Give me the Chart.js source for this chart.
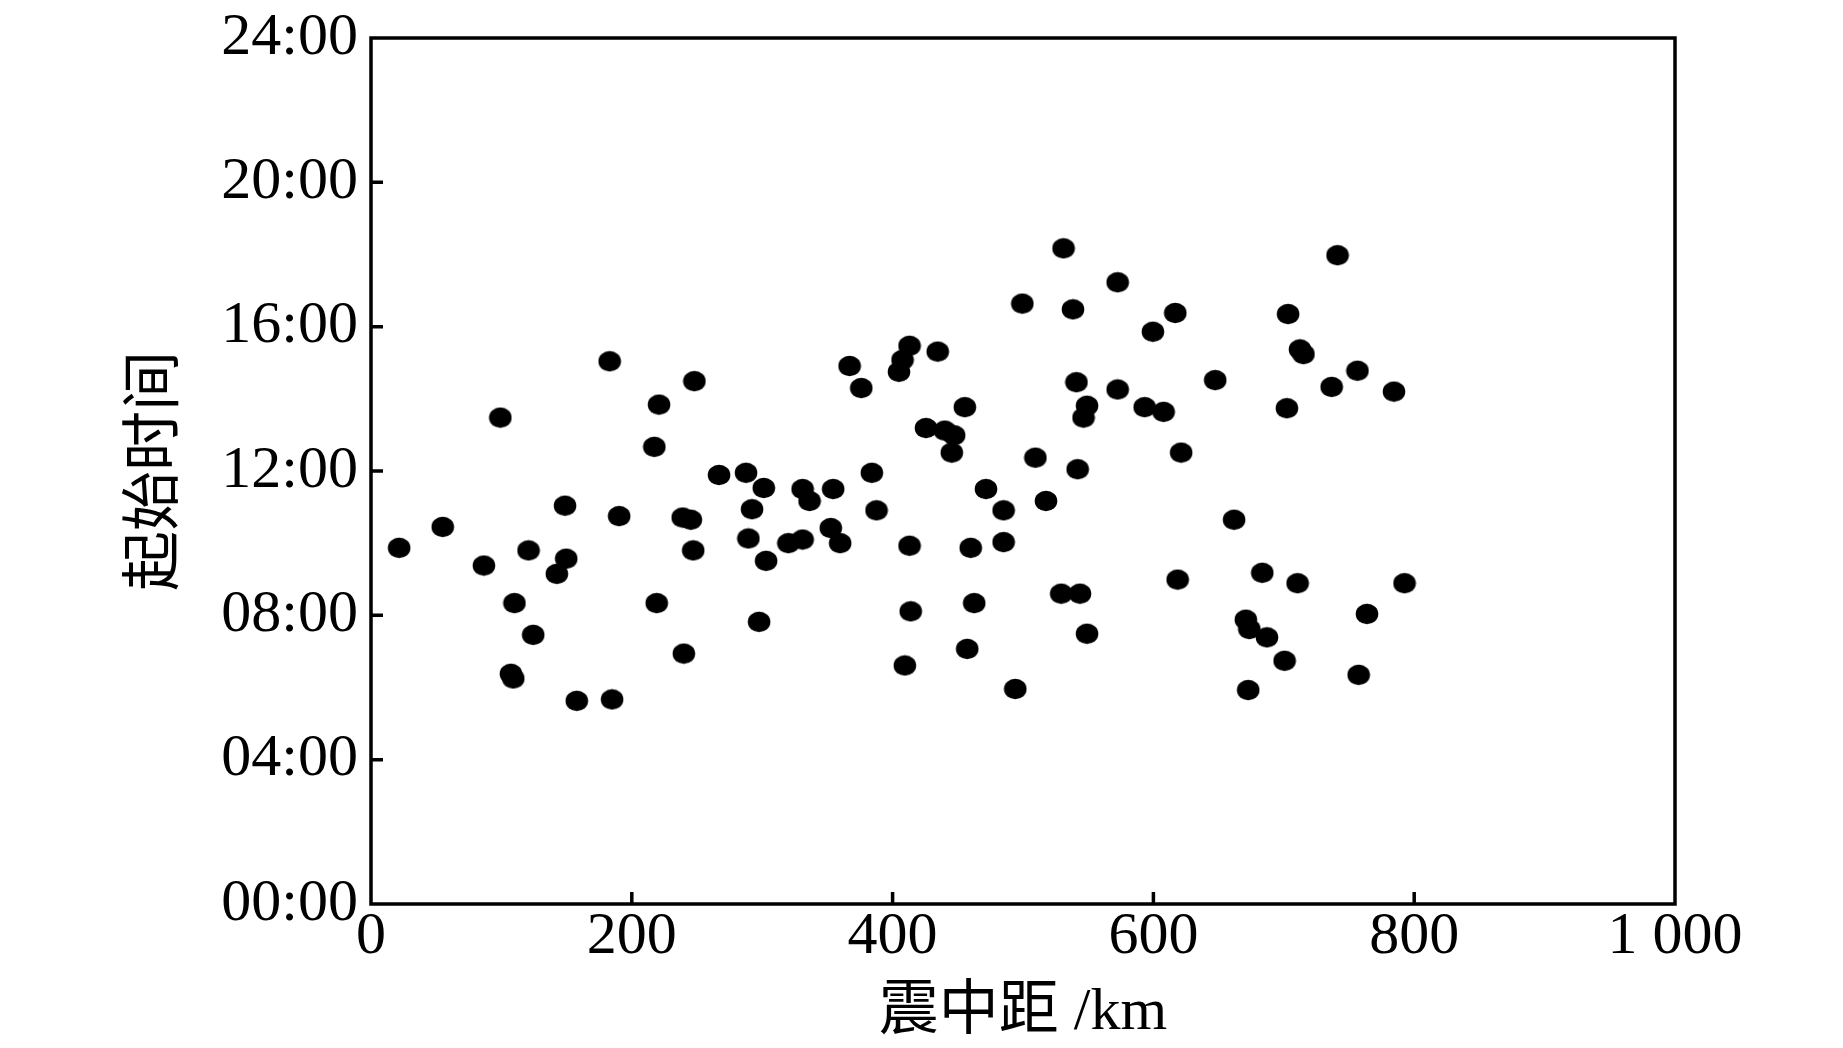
<!DOCTYPE html>
<html>
<head>
<meta charset="utf-8">
<title>起始时间 - 震中距</title>
<script src="https://cdn.jsdelivr.net/npm/chart.js@4.4.1/dist/chart.umd.min.js"></script>
<style>
  html, body { margin: 0; padding: 0; background: #fff; }
  #chart { display: block; }
</style>
</head>
<body>
<canvas id="chart" width="1843" height="1048"></canvas>
<script>
// 震中距 (km)
const distances = [
  21.6, 55.0, 86.6, 99.2, 110.0, 107.3, 109.1, 120.8, 124.4, 142.5,
  149.7, 148.8, 157.8, 183.0, 184.9, 190.3, 217.3, 220.9, 219.1, 239.9,
  239.0, 245.3, 247.1, 248.0, 266.9, 287.6, 292.2, 289.4, 301.2, 303.0,
  297.6, 320.1, 331.0, 331.0, 336.3, 354.4, 352.6, 359.8, 367.0, 376.0,
  384.1, 387.7, 404.9, 407.6, 413.0, 409.4, 413.0, 413.9, 434.6, 425.6,
  440.0, 447.2, 445.4, 455.4, 471.6, 459.9, 462.6, 457.2, 485.1, 485.1,
  494.1, 499.5, 509.5, 517.6, 531.1, 538.3, 541.0, 541.9, 549.1, 546.4,
  529.3, 543.7, 549.1, 572.6, 572.6, 599.6, 593.3, 607.8, 616.8, 621.3,
  618.6, 647.4, 661.9, 670.9, 673.6, 672.7, 683.5, 687.1, 703.3, 702.4,
  700.6, 710.6, 712.4, 715.1, 741.2, 736.7, 756.5, 757.4, 763.8, 784.5,
  792.6
];

// 起始时间 (小时)
const startHours = [
  9.87, 10.45, 9.38, 13.48, 8.34, 6.38, 6.25, 9.80, 7.46, 9.15,
  9.57, 11.04, 5.63, 15.04, 5.67, 10.75, 12.67, 13.84, 8.34, 6.94,
  10.71, 10.65, 9.80, 14.49, 11.89, 11.95, 10.94, 10.13, 11.53, 9.51,
  7.82, 10.00, 10.10, 11.50, 11.17, 11.50, 10.42, 10.00, 14.91, 14.30,
  11.95, 10.91, 14.75, 15.08, 15.47, 6.61, 9.93, 8.11, 15.31, 13.19,
  13.12, 12.99, 12.51, 13.77, 11.50, 9.87, 8.34, 7.07, 10.91, 10.03,
  5.96, 16.64, 12.37, 11.17, 18.17, 16.48, 14.46, 12.05, 13.81, 13.48,
  8.60, 8.60, 7.49, 17.23, 14.26, 15.86, 13.77, 13.64, 16.38, 12.51,
  8.99, 14.52, 10.65, 7.88, 7.62, 5.93, 9.18, 7.39, 16.35, 13.74,
  6.74, 8.89, 15.37, 15.24, 17.98, 14.33, 14.78, 6.35, 8.04, 14.20,
  8.89
];

const xTicks = [0, 200, 400, 600, 800, 1000];
const xTickLabels = ["0", "200", "400", "600", "800", "1 000"];
const yTicks = [0, 4, 8, 12, 16, 20, 24];
const yTickLabels = ["00:00", "04:00", "08:00", "12:00", "16:00", "20:00", "24:00"];

const points = distances.map((d, i) => ({ x: d, y: startHours[i] }));

// slightly flattened dot like the original
function makeDot() {
  const c = document.createElement("canvas");
  c.width = 24;
  c.height = 22;
  const g = c.getContext("2d");
  g.fillStyle = "#000";
  g.beginPath();
  g.ellipse(12, 11, 11.3, 10.2, 0, 0, Math.PI * 2);
  g.fill();
  return c;
}

const serif = "'Liberation Serif', 'Times New Roman', 'Noto Sans CJK SC', serif";

// frame + inward ticks
const framePlugin = {
  id: "frame",
  afterDraw(chart) {
    const { ctx, chartArea: a, scales } = chart;
    ctx.save();
    ctx.strokeStyle = "#000";
    ctx.lineWidth = 3.5;
    ctx.strokeRect(a.left, a.top, a.right - a.left, a.bottom - a.top);
    ctx.beginPath();
    xTicks.slice(1, -1).forEach(v => {
      const px = scales.x.getPixelForValue(v);
      ctx.moveTo(px, a.bottom);
      ctx.lineTo(px, a.bottom - 12);
    });
    yTicks.slice(1, -1).forEach(v => {
      const py = scales.y.getPixelForValue(v);
      ctx.moveTo(a.left, py);
      ctx.lineTo(a.left + 12, py);
    });
    ctx.stroke();
    ctx.restore();
  }
};

new Chart(document.getElementById("chart"), {
  type: "scatter",
  data: {
    datasets: [{
      data: points,
      pointStyle: makeDot(),
      backgroundColor: "#000",
      borderColor: "#000"
    }]
  },
  options: {
    responsive: false,
    animation: false,
    layout: { padding: { top: 38, right: 168, left: 0, bottom: 0 } },
    plugins: {
      legend: { display: false },
      tooltip: { enabled: false }
    },
    scales: {
      x: {
        type: "linear",
        min: 0,
        max: 1000,
        afterBuildTicks: s => { s.ticks = xTicks.map(v => ({ value: v })); },
        afterFit: s => { s.height = 144; },
        grid: { display: false, drawTicks: false },
        border: { display: false },
        ticks: {
          color: "#000",
          padding: 3,
          maxRotation: 0,
          font: { family: serif, size: 60, lineHeight: 1 },
          callback: v => xTickLabels[xTicks.indexOf(v)]
        },
        title: {
          display: true,
          text: "震中距 /km",
          color: "#000",
          font: { family: serif, size: 60, lineHeight: 1 },
          padding: { top: 0, bottom: 5 }
        }
      },
      y: {
        type: "linear",
        min: 0,
        max: 24,
        afterBuildTicks: s => { s.ticks = yTicks.map(v => ({ value: v })); },
        afterFit: s => {
          s.width = 371;
          // labels may overhang the frame like in the original
          s.paddingTop = 0;
          s.paddingBottom = 0;
        },
        grid: { display: false, drawTicks: false },
        border: { display: false },
        ticks: {
          color: "#000",
          padding: 13,
          font: { family: serif, size: 60, lineHeight: 1 },
          callback: v => yTickLabels[yTicks.indexOf(v)]
        },
        title: {
          display: true,
          text: "起始时间",
          color: "#000",
          font: { family: serif, size: 60, lineHeight: 1 },
          padding: { top: 127, bottom: 0 }
        }
      }
    }
  },
  plugins: [framePlugin]
});
</script>
</body>
</html>
